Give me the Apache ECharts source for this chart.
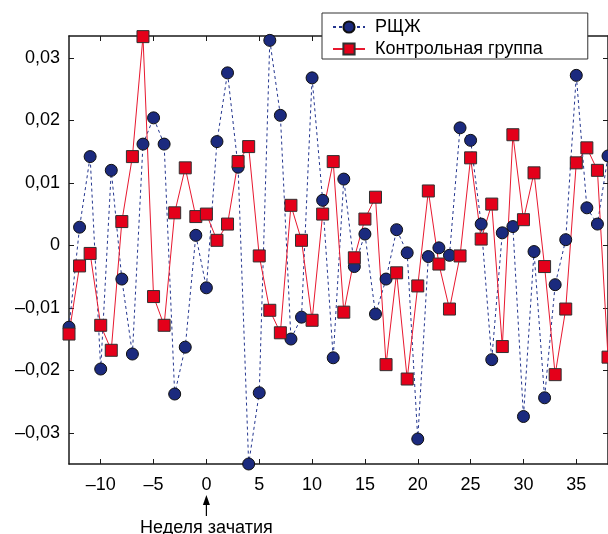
<!DOCTYPE html>
<html>
<head>
<meta charset="utf-8">
<script src="https://cdn.jsdelivr.net/npm/echarts@6/dist/echarts.min.js"></script>
<style>
    html, body { margin: 0; padding: 0; background: #fff; }
    #chart { width: 608px; height: 534px; }
</style>
</head>
<body>
<div id="chart"></div>
<script>
// weeks relative to conception week
var weeks = [-13, -12, -11, -10, -9, -8, -7, -6, -5, -4, -3, -2, -1, 0, 1, 2, 3, 4, 5, 6,
    7, 8, 9, 10, 11, 12, 13, 14, 15, 16, 17, 18, 19, 20, 21, 22, 23, 24, 25, 26,
    27, 28, 29, 30, 31, 32, 33, 34, 35, 36, 37, 38];

var rshzh = [-0.0131, 0.0029, 0.0142, -0.0198, 0.0120, -0.0054, -0.0174, 0.0162, 0.0204, 0.0162,
    -0.0238, -0.0163, 0.0016, -0.0068, 0.0166, 0.0276, 0.0125, -0.0350, -0.0236, 0.0328,
    0.0208, -0.0150, -0.0115, 0.0268, 0.0072, -0.0180, 0.0106, -0.0034, 0.0018, -0.0110,
    -0.0054, 0.0025, -0.0012, -0.0310, -0.0018, -0.0004, -0.0016, 0.0188, 0.0168, 0.0034,
    -0.0183, 0.0020, 0.0030, -0.0274, -0.0010, -0.0244, -0.0063, 0.0009, 0.0272, 0.0060,
    0.0034, 0.0143];

var control = [-0.0142, -0.0033, -0.0013, -0.0128, -0.0168, 0.0038, 0.0142, 0.0334, -0.0082, -0.0128,
    0.0052, 0.0124, 0.0046, 0.0050, 0.0008, 0.0034, 0.0134, 0.0158, -0.0017, -0.0104,
    -0.0140, 0.0064, 0.0008, -0.0120, 0.0050, 0.0134, -0.0107, -0.0020, 0.0042, 0.0077,
    -0.0191, -0.0044, -0.0214, -0.0065, 0.0087, -0.0030, -0.0102, -0.0017, 0.0140, 0.0010,
    0.0066, -0.0162, 0.0177, 0.0041, 0.0116, -0.0034, -0.0207, -0.0102, 0.0132, 0.0156,
    0.0120, -0.0179];

var seriesNames = ['РЩЖ', 'Контрольная группа'];
var xTicks = [-10, -5, 0, 5, 10, 15, 20, 25, 30, 35];
var yTicks = [-0.03, -0.02, -0.01, 0, 0.01, 0.02, 0.03];
var markerWeek = 0;
var markerText = 'Неделя зачатия';

var FONT = 'Liberation Sans, Arial, sans-serif';

function pairs(xs, ys) {
    var out = [];
    for (var i = 0; i < xs.length; i++) {
        out.push([xs[i], ys[i]]);
    }
    return out;
}

function fmtX(v) {
    return String(v).replace('-', '\u2013');
}

function fmtY(v) {
    if (Math.abs(v) < 1e-9) return '0';
    return v.toFixed(2).replace('.', ',').replace('-', '\u2013');
}

var axisLine = { show: true, onZero: false, lineStyle: { color: '#1a1a1a', width: 1.5 } };

function xAxisCfg(pos, showLabel) {
    return {
        type: 'value',
        position: pos,
        min: -13,
        max: 38,
        axisLine: axisLine,
        axisTick: { show: true, inside: true, length: 5, customValues: xTicks,
            lineStyle: { color: '#1a1a1a', width: 1 } },
        axisLabel: { show: showLabel, customValues: xTicks, formatter: fmtX, margin: 12,
            color: '#000', fontSize: 18, fontFamily: FONT },
        splitLine: { show: false }
    };
}

function yAxisCfg(pos, showLabel) {
    return {
        type: 'value',
        position: pos,
        min: -0.035,
        max: 0.0335,
        axisLine: axisLine,
        axisTick: { show: true, inside: true, length: 5, customValues: yTicks,
            lineStyle: { color: '#1a1a1a', width: 1 } },
        axisLabel: { show: showLabel, customValues: yTicks, formatter: fmtY, margin: 9,
            color: '#000', fontSize: 18, fontFamily: FONT },
        splitLine: { show: false }
    };
}

var chart = echarts.init(document.getElementById('chart'), null, { renderer: 'canvas' });

var option = {
    animation: false,
    backgroundColor: '#fff',
    grid: { left: 69, right: -2, top: 36, bottom: 70 },
    legend: {
        data: seriesNames,
        orient: 'vertical',
        left: 322,
        top: 13,
        padding: [5, 45, 1, 10],
        itemGap: 4,
        itemWidth: 32,
        itemHeight: 14,
        backgroundColor: '#fff',
        borderColor: '#333',
        borderWidth: 1,
        borderRadius: 0,
        textStyle: { color: '#000', fontSize: 18, fontFamily: FONT, padding: [0, 0, 0, 5] }
    },
    xAxis: [xAxisCfg('bottom', true), xAxisCfg('top', false)],
    yAxis: [yAxisCfg('left', true), yAxisCfg('right', false)],
    series: [
        {
            name: seriesNames[0],
            type: 'line',
            data: pairs(weeks, rshzh),
            symbol: 'circle',
            symbolSize: 12,
            clip: false,
            lineStyle: { color: '#24368f', width: 1, type: [3, 3] },
            itemStyle: { color: '#1b2a7e', borderColor: '#101010', borderWidth: 1 }
        },
        {
            name: seriesNames[1],
            type: 'line',
            data: pairs(weeks, control),
            symbol: 'rect',
            symbolSize: 12,
            clip: false,
            lineStyle: { color: '#e8182f', width: 1 },
            itemStyle: { color: '#e4001a', borderColor: '#303030', borderWidth: 1 }
        }
    ]
};

chart.setOption(option);

// arrow + caption under the conception week
var mx = chart.convertToPixel({ xAxisIndex: 0 }, markerWeek);
chart.setOption({
    graphic: [
        {
            type: 'line',
            shape: { x1: mx, y1: 516, x2: mx, y2: 503 },
            style: { stroke: '#000', lineWidth: 1.2 }
        },
        {
            type: 'polygon',
            shape: { points: [[mx - 3.5, 505], [mx + 3.5, 505], [mx, 495]] },
            style: { fill: '#000' }
        },
        {
            type: 'text',
            x: mx,
            y: 528,
            style: {
                text: markerText,
                fill: '#000',
                font: '18px ' + FONT,
                textAlign: 'center',
                textVerticalAlign: 'middle'
            }
        }
    ]
});
</script>
</body>
</html>
